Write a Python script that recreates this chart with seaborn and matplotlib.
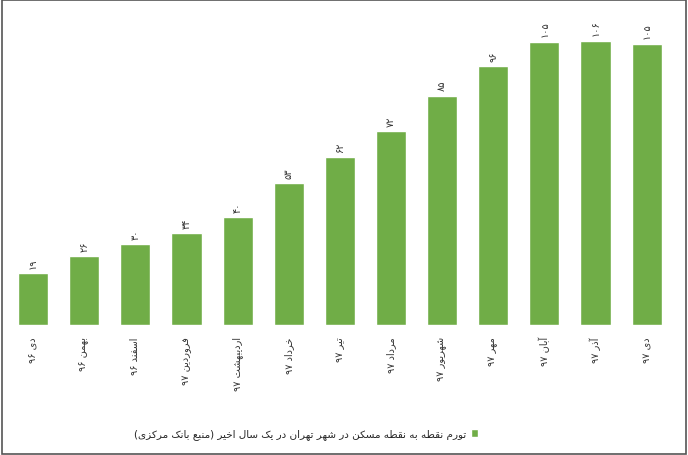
import matplotlib
matplotlib.use("Agg")
import matplotlib.pyplot as plt
import seaborn as sns
import pandas as pd
from matplotlib.patches import Rectangle

months = ["دی ۹۶", "بهمن ۹۶", "اسفند ۹۶", "فروردین ۹۷", "اردیبهشت ۹۷", "خرداد ۹۷",
          "تیر ۹۷", "مرداد ۹۷", "شهریور ۹۷", "مهر ۹۷", "آبان ۹۷", "آذر ۹۷", "دی ۹۷"]
values = [19.3, 25.6, 30.0, 34.1, 40.1, 52.7, 62.3, 72.0, 85.3, 96.1, 105.3, 105.7, 104.6]
series_name = "تورم نقطه به نقطه مسکن در شهر تهران در یک سال اخیر (منبع بانک مرکزی)"

# --- minimal Persian shaping (presentation forms) + visual RTL ordering ---
FORMS = {
    "ا": ("\uFE8D", "\uFE8E", None, None),
    "آ": ("\uFE81", "\uFE82", None, None),
    "ب": ("\uFE8F", "\uFE90", "\uFE91", "\uFE92"),
    "ت": ("\uFE95", "\uFE96", "\uFE97", "\uFE98"),
    "خ": ("\uFEA5", "\uFEA6", "\uFEA7", "\uFEA8"),
    "د": ("\uFEA9", "\uFEAA", None, None),
    "ذ": ("\uFEAB", "\uFEAC", None, None),
    "ر": ("\uFEAD", "\uFEAE", None, None),
    "ز": ("\uFEAF", "\uFEB0", None, None),
    "س": ("\uFEB1", "\uFEB2", "\uFEB3", "\uFEB4"),
    "ش": ("\uFEB5", "\uFEB6", "\uFEB7", "\uFEB8"),
    "ط": ("\uFEC1", "\uFEC2", "\uFEC3", "\uFEC4"),
    "ع": ("\uFEC9", "\uFECA", "\uFECB", "\uFECC"),
    "ف": ("\uFED1", "\uFED2", "\uFED3", "\uFED4"),
    "ق": ("\uFED5", "\uFED6", "\uFED7", "\uFED8"),
    "ل": ("\uFEDD", "\uFEDE", "\uFEDF", "\uFEE0"),
    "م": ("\uFEE1", "\uFEE2", "\uFEE3", "\uFEE4"),
    "ن": ("\uFEE5", "\uFEE6", "\uFEE7", "\uFEE8"),
    "ه": ("\uFEE9", "\uFEEA", "\uFEEB", "\uFEEC"),
    "و": ("\uFEED", "\uFEEE", None, None),
    "ک": ("\uFB8E", "\uFB8F", "\uFB90", "\uFB91"),
    "ی": ("\uFBFC", "\uFBFD", "\uFBFE", "\uFBFF"),
}


def dual(c):
    return c in FORMS and FORMS[c][2] is not None


def shape(s):
    out = []
    for i, c in enumerate(s):
        if c not in FORMS:
            out.append(c)
            continue
        prev_j = i > 0 and dual(s[i - 1])
        next_j = i + 1 < len(s) and s[i + 1] in FORMS
        iso, fin, ini, med = FORMS[c]
        if dual(c):
            if prev_j and next_j:
                out.append(med)
            elif prev_j:
                out.append(fin)
            elif next_j:
                out.append(ini)
            else:
                out.append(iso)
        else:
            out.append(fin if prev_j else iso)
    return "".join(out)


def rtl(s):
    s = shape(s)
    digits = set("۰۱۲۳۴۵۶۷۸۹0123456789")
    runs, cur, cur_d = [], "", None
    for c in s:
        d = c in digits
        if cur and d != cur_d:
            runs.append((cur, cur_d))
            cur = ""
        cur += c
        cur_d = d
    if cur:
        runs.append((cur, cur_d))
    mirror = {"(": ")", ")": "("}
    res = []
    for txt, d in reversed(runs):
        if d:
            res.append(txt)
        else:
            res.append("".join(mirror.get(ch, ch) for ch in reversed(txt)))
    return "".join(res)


def fa_num(v):
    return str(int(round(v))).translate(str.maketrans("0123456789", "۰۱۲۳۴۵۶۷۸۹"))


sns.set_theme(style="white")
plt.rcParams["font.family"] = ["DejaVu Sans"]

df = pd.DataFrame({"month": [rtl(m) for m in months], "value": values})

fig = plt.figure(figsize=(6.88, 4.56), dpi=100)
ax = fig.add_axes([0.011, 0.285, 0.966, 0.649])
green = "#70ad47"
sns.barplot(data=df, x="month", y="value", color=green, width=0.59,
            saturation=1, ax=ax, label=rtl(series_name))

ax.set_ylim(0, 110)
ax.set_xlim(-0.5, len(values) - 0.5)
ax.set_xlabel("")
ax.set_ylabel("")
ax.set_yticks([])
for s in ax.spines.values():
    s.set_visible(False)
ax.tick_params(axis="x", length=0, pad=8)
for lab in ax.get_xticklabels():
    lab.set_rotation(90)
    lab.set_fontsize(7)
    lab.set_color("#333333")
    lab.set_va("top")
    lab.set_ha("center")

for i, v in enumerate(values):
    ax.text(i, v + 2, fa_num(v), rotation=90, ha="center", va="bottom",
            fontsize=7, color="#333333")

leg = ax.get_legend()
if leg is not None:
    leg.remove()
handles, labels = ax.get_legend_handles_labels()
fig.legend(handles[:1], labels[:1], loc="center", bbox_to_anchor=(0.445, 0.046),
           frameon=False, markerfirst=False, fontsize=7.5, handlelength=0.7,
           handleheight=0.7, handletextpad=0.4)

fig.patches.append(Rectangle((0.003, 0.003), 0.994, 0.994, transform=fig.transFigure,
                             fill=False, edgecolor="#555555", linewidth=1.2))

fig.savefig("out.png", dpi=100)
